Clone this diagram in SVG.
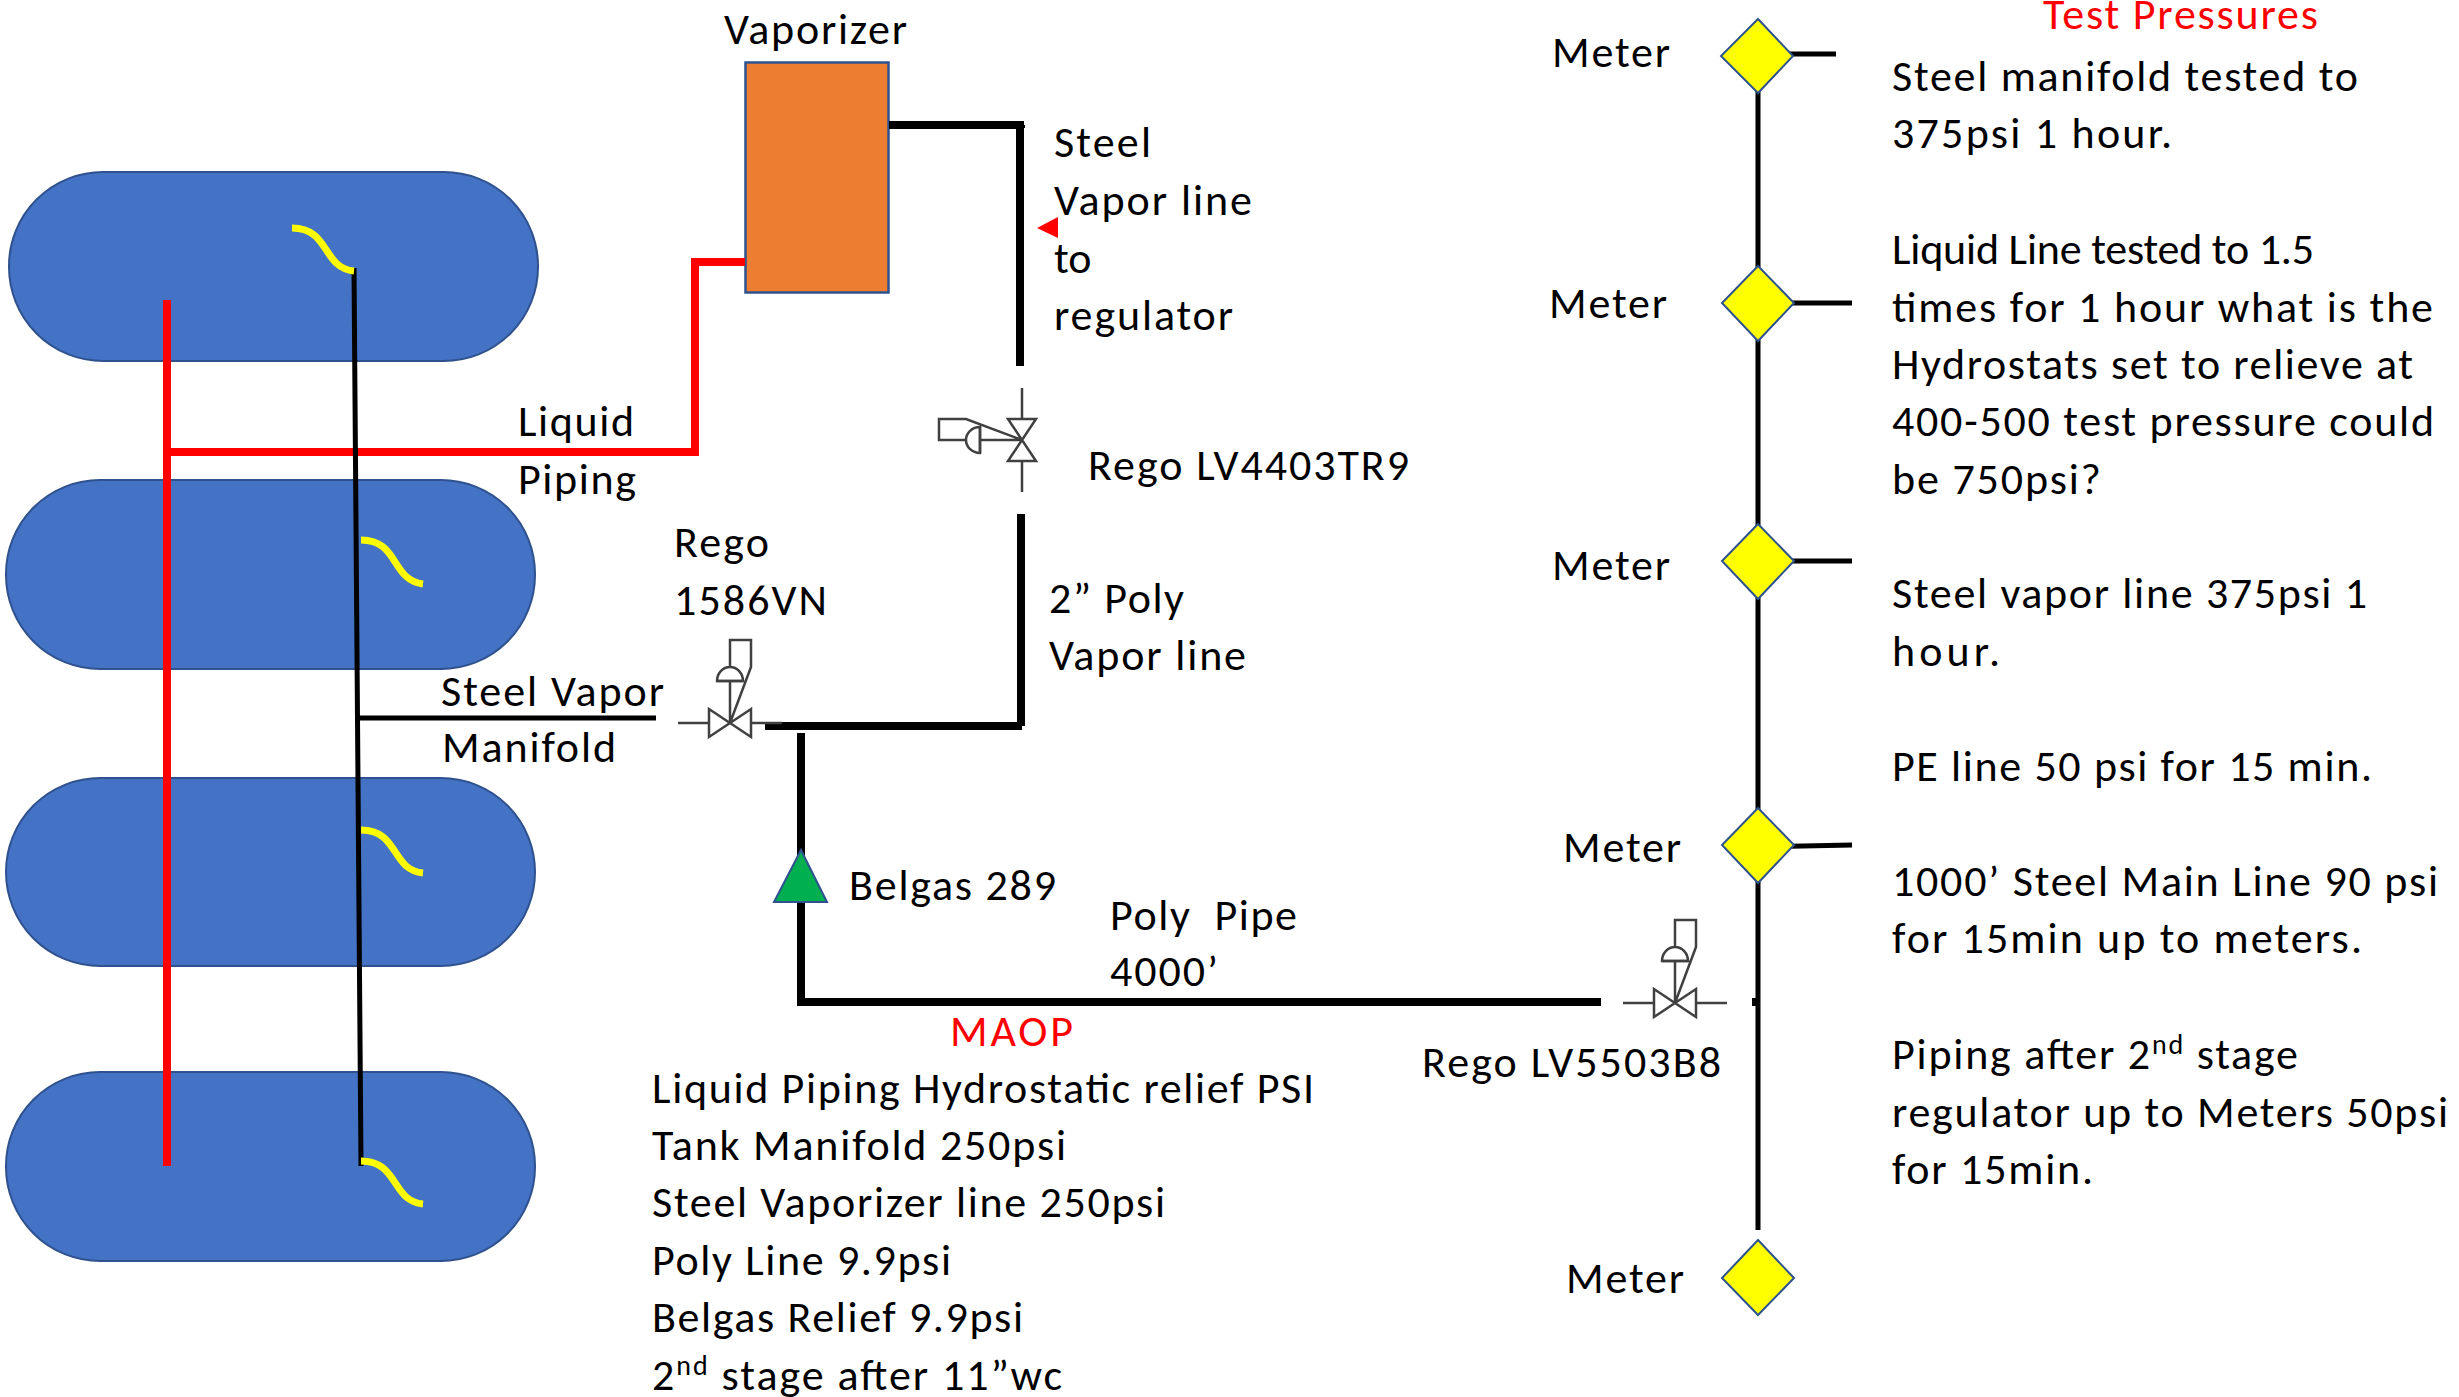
<svg xmlns="http://www.w3.org/2000/svg" width="2459" height="1397" viewBox="0 0 2459 1397">
<style>
text{font-family:Carlito,Lato,"Open Sans","Liberation Sans",sans-serif;font-size:44px;fill:#000}
.r{fill:#f00}
.tank{fill:#4472c4;stroke:#2f528f;stroke-width:2}
.mtr{fill:#ff0;stroke:#2f528f;stroke-width:2}
.k{fill:none;stroke:#000}
.red{fill:none;stroke:#f00;stroke-width:8}
.yel{fill:none;stroke:#ff0;stroke-width:7}
.v{fill:none;stroke:#404040;stroke-width:2.5}
</style>
<defs>
<g id="valve"><path class="v" d="M-52 0H-21M21 0H52M-21-14V14L21-14V14ZM0 0V-42M-13-42A13 14 0 0 1 13-42ZM0 -56V-83H21V-56L0 0"/><path class="v" d="M-13-42H13"/></g>
</defs>
<g id="tank1"><rect class="tank" x="9" y="172" width="529" height="189" rx="94" ry="94"/></g>
<g id="tank2"><rect class="tank" x="6" y="480" width="529" height="189" rx="94" ry="94"/></g>
<g id="tank3"><rect class="tank" x="6" y="778" width="529" height="188" rx="94" ry="94"/></g>
<g id="tank4"><rect class="tank" x="6" y="1072" width="529" height="189" rx="94" ry="94"/></g>
<g id="vaporizer"><rect x="745.500" y="62.500" width="143" height="230" fill="#ed7d31" stroke="#2f528f" stroke-width="2.500"/></g>
<g id="connectors">
<path class="red" d="M167 300V1166M167 452H695V262H745"/>
<path class="k" stroke-width="5" d="M354 268L361 1166M359 718H656"/>
<path class="yel" d="M292 228C330 228 322 268 354 271"/>
<path class="yel" d="M361 540C399 540 391 580 423 584"/>
<path class="yel" d="M361 830C399 830 391 870 423 873"/>
<path class="yel" d="M361 1161C399 1161 391 1201 423 1204"/>
<path class="k" stroke-width="8" d="M889 125H1020V366M1021 125V128M1021 514V726M765 726H1022M801 733V1002H1601M1752 1002H1759"/>
<path class="k" stroke-width="5" d="M1758 70V1230M1758 54H1836M1758 303H1852M1758 561H1852M1758 847L1852 845"/>
<path d="M1037 228L1058 217V238Z" fill="#f00"/>
</g>
<g id="vaporizer-label"><text x="724" y="44" textLength="183">Vaporizer</text></g>
<g id="belgas"><path d="M774 902L801 850L827 902Z" fill="#00b050" stroke="#2f528f" stroke-width="2"/></g>
<g id="m1"><path class="mtr" d="M1758 19L1793 56L1758 93L1721 56Z"/></g>
<g id="m2"><path class="mtr" d="M1758 266L1794 303L1758 341L1722 303Z"/></g>
<g id="m3"><path class="mtr" d="M1758 524L1794 561L1758 599L1722 561Z"/></g>
<g id="m4"><path class="mtr" d="M1758 808L1794 845L1758 883L1722 845Z"/></g>
<g id="m5"><path class="mtr" d="M1758 1240L1794 1278L1758 1315L1722 1278Z"/></g>
<g id="v1"><use href="#valve" transform="translate(1022 440) rotate(-90) scale(1 1)"/></g>
<g id="v2"><use href="#valve" transform="translate(730 723)"/></g>
<g id="v3"><use href="#valve" transform="translate(1675 1003)"/></g>
<g id="labels">
<text x="1054" y="157" textLength="97">Steel</text>
<text x="1054" y="215" textLength="198">Vapor line</text>
<text x="1054" y="273">to</text>
<text x="1054" y="330" textLength="179">regulator</text>
<text x="518" y="436" textLength="116">Liquid</text>
<text x="518" y="494" textLength="118">Piping</text>
<text x="1088" y="480" textLength="321">Rego LV4403TR9</text>
<text x="674" y="557" textLength="95">Rego</text>
<text x="674" y="615" textLength="153">1586VN</text>
<text x="1049" y="613" textLength="135">2” Poly</text>
<text x="1049" y="670" textLength="197">Vapor line</text>
<text x="441" y="706" textLength="223">Steel Vapor</text>
<text x="442" y="762" textLength="174">Manifold</text>
<text x="849" y="900" textLength="207">Belgas 289</text>
<text x="1110" y="930" textLength="187" xml:space="preserve">Poly  Pipe</text>
<text x="1110" y="986" textLength="108">4000’</text>
<text x="950" y="1046" textLength="123" class="r">MAOP</text>
<text x="652" y="1103" textLength="662">Liquid Piping Hydrostatic relief PSI</text>
<text x="652" y="1160" textLength="414">Tank Manifold 250psi</text>
<text x="652" y="1217" textLength="513">Steel Vaporizer line 250psi</text>
<text x="652" y="1275" textLength="299">Poly Line 9.9psi</text>
<text x="652" y="1332" textLength="371">Belgas Relief 9.9psi</text>
<text x="652" y="1390" textLength="410">2<tspan font-size="28" dy="-15">nd</tspan><tspan dy="15"> stage after 11”wc</tspan></text>
<text x="1422" y="1077" textLength="299">Rego LV5503B8</text>
<text x="1552" y="67" textLength="118">Meter</text>
<text x="1549" y="318" textLength="118">Meter</text>
<text x="1552" y="580" textLength="118">Meter</text>
<text x="1563" y="862" textLength="118">Meter</text>
<text x="1566" y="1293" textLength="118">Meter</text>
<text x="2043" y="29" textLength="275" class="r">Test Pressures</text>
<text x="1892" y="91" textLength="466">Steel manifold tested to</text>
<text x="1892" y="148" textLength="280">375psi 1 hour.</text>
<text x="1892" y="264" textLength="422">Liquid Line tested to 1.5</text>
<text x="1892" y="322" textLength="541">times for 1 hour what is the</text>
<text x="1892" y="379" textLength="521">Hydrostats set to relieve at</text>
<text x="1892" y="436" textLength="542">400-500 test pressure could</text>
<text x="1892" y="494" textLength="209">be 750psi?</text>
<text x="1892" y="608" textLength="475">Steel vapor line 375psi 1</text>
<text x="1892" y="666" textLength="108">hour.</text>
<text x="1892" y="781" textLength="480">PE line 50 psi for 15 min.</text>
<text x="1892" y="896" textLength="546">1000’ Steel Main Line 90 psi</text>
<text x="1892" y="953" textLength="470">for 15min up to meters.</text>
<text x="1892" y="1069" textLength="406">Piping after 2<tspan font-size="28" dy="-15">nd</tspan><tspan dy="15"> stage</tspan></text>
<text x="1892" y="1127" textLength="556">regulator up to Meters 50psi</text>
<text x="1892" y="1184" textLength="201">for 15min.</text>
</g>
</svg>
